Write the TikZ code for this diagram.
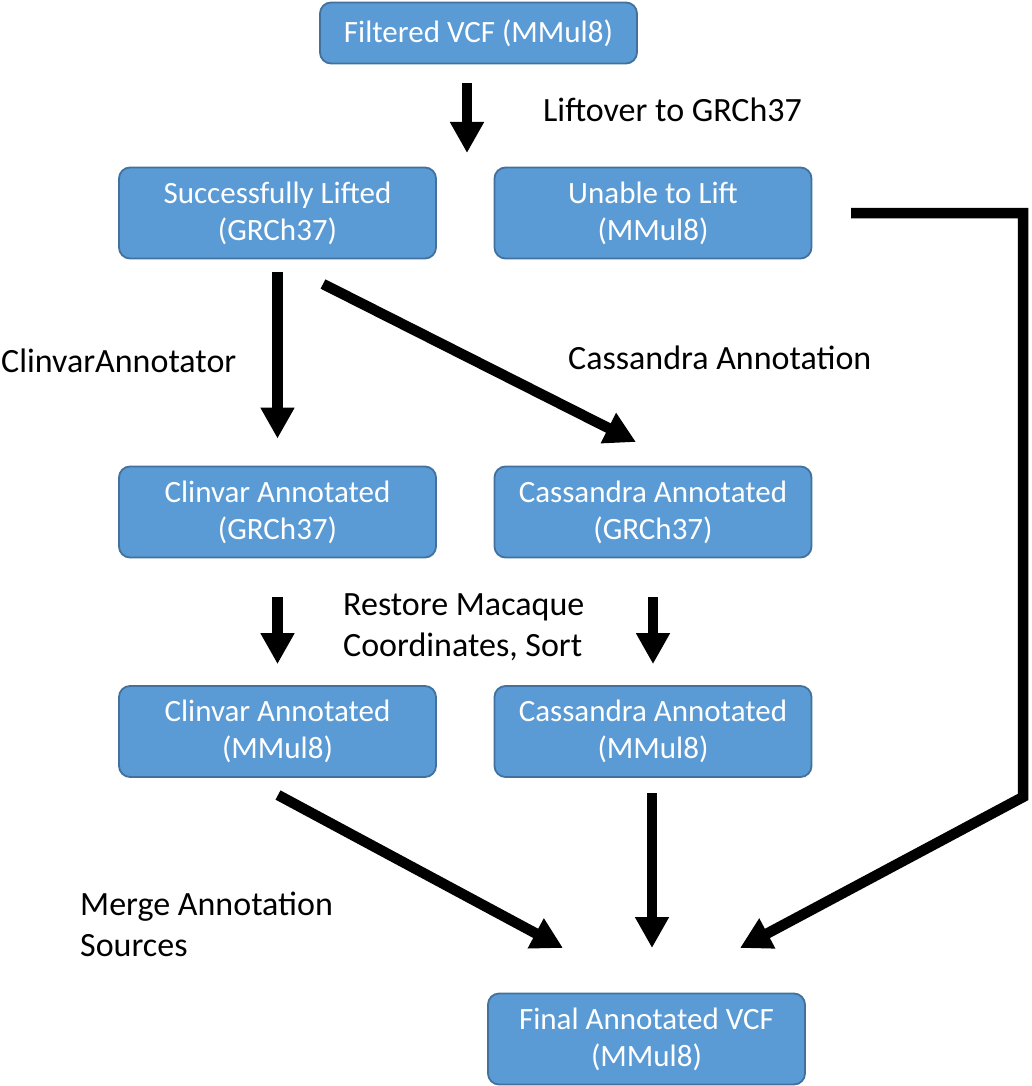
\documentclass[tikz,border=0pt]{standalone}
\usepackage{fontspec}
\setmainfont{Carlito}
\usetikzlibrary{arrows.meta,calc}
\definecolor{boxfill}{HTML}{5B9BD5}
\definecolor{boxline}{HTML}{41719C}
\begin{document}
\begin{tikzpicture}[x=1pt,y=-1pt,
  box/.style={draw=boxline, fill=boxfill, line width=1.8pt, rounded corners=11pt,
    minimum width=317pt, minimum height=91pt, inner sep=0pt, align=center,
    text=white, font=\fontsize{31}{37}\selectfont},
  lbl/.style={inner sep=0pt, align=left, anchor=west, font=\fontsize{34}{41}\selectfont},
  arr/.style={line width=10.5pt, -{Triangle[width=32pt,length=31pt]}},
]
\useasboundingbox (0,0) rectangle (1031,1086);

% boxes
\node[box, minimum height=61pt] (f) at (478.5,33) {Filtered VCF (MMul8)};
\node[box] (sl)  at (277.5,213) {Successfully Lifted\\(GRCh37)};
\node[box] (ul)  at (653,213)   {Unable to Lift\\(MMul8)};
\node[box] (ca1) at (277.5,512) {Clinvar Annotated\\(GRCh37)};
\node[box] (cs1) at (653,512)   {Cassandra Annotated\\(GRCh37)};
\node[box] (ca2) at (277.5,731.5) {Clinvar Annotated\\(MMul8)};
\node[box] (cs2) at (653,731.5)   {Cassandra Annotated\\(MMul8)};
\node[box] (fin) at (646.5,1039)  {Final Annotated VCF\\(MMul8)};

% labels
\node[lbl] (l1) at (543,110) {Liftover to GRCh37};
\node[lbl] (l2) at (1,361) {ClinvarAnnotator};
\node[lbl] (l3) at (568,358) {Cassandra Annotation};
\node[lbl] (l4) at (343,627) {Restore Macaque\\Coordinates, Sort};
\node[lbl] (l5) at (80,924) {Merge Annotation\\Sources};

% connector coordinates
\coordinate (a0s) at (467,83);
\coordinate (a0e) at (467,153);
\coordinate (d1s) at (323,284);
\coordinate (d1e) at (636,442);
\coordinate (d2s) at (278,795);
\coordinate (d2e) at (563,948);
\coordinate (v3s) at (652,793);
\coordinate (v3e) at (652,948);
\coordinate (u0) at (851,213);
\coordinate (u1) at (1023,213);
\coordinate (u2) at (1023,797);
\coordinate (u3) at (740,948);

% arrows
\draw[arr] (a0s) -- (a0e);
\draw[arr, shorten <=13pt, shorten >=27pt] (sl.south) -- (ca1.north);
\draw[arr] (d1s) -- (d1e);
\draw[arr, shorten <=39pt, shorten >=21pt] (ca1.south) -- (ca2.north);
\draw[arr, shorten <=39pt, shorten >=21pt] (cs1.south) -- (cs2.north);
\draw[arr] (d2s) -- (d2e);
\draw[arr] (v3s) -- (v3e);
\draw[arr, line join=miter] (u0) -- (u1) -- (u2) -- (u3);
\end{tikzpicture}
\end{document}
